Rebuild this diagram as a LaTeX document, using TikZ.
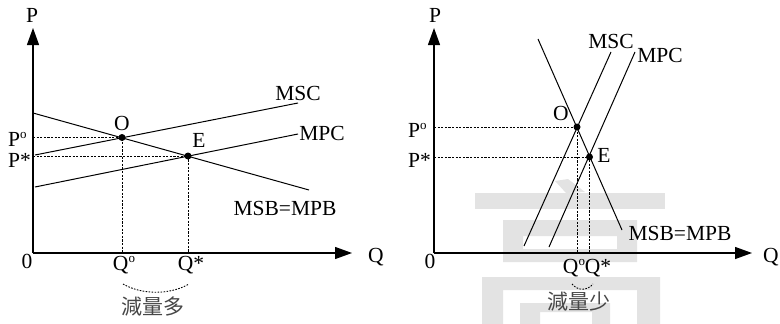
\documentclass[tikz,border=0pt]{standalone}
\usepackage{fontspec}
\setmainfont{Liberation Serif}
\newfontfamily\cjkfont{Noto Sans CJK TC}
\usetikzlibrary{arrows.meta}
\newcommand\supo{\raisebox{0.75ex}{\fontsize{13}{13}\selectfont o}}
\begin{document}
\begin{tikzpicture}[x=1pt,y=-1pt,
  lbl/.style={inner sep=0pt,font=\fontsize{21.5}{25}\selectfont},
  axis/.style={line width=1.3pt,-{Triangle[length=17pt,width=12pt]}},
  curve/.style={line width=1pt},
  guide/.style={line width=1pt,dash pattern=on 2.2pt off 1.4pt},
  arcd/.style={line width=0.9pt,dash pattern=on 1.6pt off 1.4pt},
  dot/.style={circle,fill=black,inner sep=0pt,minimum size=7pt},
  wm/.style={fill=black!11,draw=none},
  cjkl/.style={inner sep=0pt,font=\cjkfont\fontsize{21}{24}\selectfont,text=black!72}]
\useasboundingbox (0,0) rectangle (780,324);

% watermark
\fill[wm] (555,181) -- (568,179) -- (585,192) -- (566,193) -- cycle;
\fill[wm] (475,193) rectangle (665,209);
\fill[wm,even odd rule] (503,220) rectangle (637,262) (523,236) rectangle (617,249);
\fill[wm] (482,277) rectangle (660,290) (482,290) rectangle (503,324) (637,290) rectangle (660,324);
\fill[wm,even odd rule] (520,303) rectangle (610,324) (540,312) rectangle (592,324);

% ---------------- left panel
\coordinate (L0) at (33,253);
\coordinate (Ltop) at (33,28);
\coordinate (Lright) at (352,253);
\draw[axis] (L0) -- (Ltop);
\draw[axis] (L0) -- (Lright);

\coordinate (LmsbA) at (33,113);  \coordinate (LmsbB) at (309,190);
\coordinate (LmscA) at (35,155);  \coordinate (LmscB) at (298,103);
\coordinate (LmpcA) at (35,187);  \coordinate (LmpcB) at (298,134);
\draw[curve] (LmsbA) -- (LmsbB);
\draw[curve] (LmscA) -- (LmscB);
\draw[curve] (LmpcA) -- (LmpcB);

\coordinate (LO) at (122,137.5);
\coordinate (LE) at (188,156);
\coordinate (LPo) at (33,137.5);
\coordinate (LPs) at (33,156);
\coordinate (LQo) at (122,253);
\coordinate (LQs) at (188,253);
\draw[guide] (LPo) -- (LO) -- (LQo);
\draw[guide] (LPs) -- (LE) -- (LQs);
\node[dot] (LOd) at (LO) {};
\node[dot] (LEd) at (LE) {};

\node[lbl,anchor=base] (LP) at (32,22) {P};
\node[lbl,anchor=base] (LQ) at (376,262) {Q};
\node[lbl,anchor=base] (L0l) at (27,268) {0};
\node[lbl,anchor=base west] (LPol) at (8,146) {P\supo};
\node[lbl,anchor=base west] (LPsl) at (8,167) {P*};
\node[lbl,anchor=base] (LOl) at (122,130) {O};
\node[lbl,anchor=base] (LEl) at (199,147) {E};
\node[lbl,anchor=base] (LMSC) at (298,100) {MSC};
\node[lbl,anchor=base] (LMPC) at (322,140) {MPC};
\node[lbl,anchor=base] (LMSB) at (285,215) {MSB=MPB};
\node[lbl,anchor=base] (LQol) at (124,270) {Q\supo};
\node[lbl,anchor=base] (LQsl) at (191,270) {Q*};
\coordinate (LarcA) at (123,284);
\coordinate (LarcB) at (189,284);
\draw[arcd] (LarcA) .. controls (142,295) and (170,295) .. (LarcB);
\node[cjkl] (Lcjk) at (153,307) {減量多};

% ---------------- right panel
\coordinate (R0) at (434,253);
\coordinate (Rtop) at (434,28);
\coordinate (Rright) at (752,253);
\draw[axis] (R0) -- (Rtop);
\draw[axis] (R0) -- (Rright);

\coordinate (RmsbA) at (538,39);  \coordinate (RmsbB) at (622,230);
\coordinate (RmscA) at (524,246); \coordinate (RmscB) at (611,52);
\coordinate (RmpcA) at (549,247); \coordinate (RmpcB) at (635,52);
\draw[curve] (RmsbA) -- (RmsbB);
\draw[curve] (RmscA) -- (RmscB);
\draw[curve] (RmpcA) -- (RmpcB);

\coordinate (RO) at (577,127);
\coordinate (RE) at (589.5,157);
\coordinate (RPo) at (434,127);
\coordinate (RPs) at (434,157);
\coordinate (RQo) at (577,253);
\coordinate (RQs) at (589.5,253);
\draw[guide] (RPo) -- (RO) -- (RQo);
\draw[guide] (RPs) -- (RE) -- (RQs);
\node[dot] (ROd) at (RO) {};
\node[dot] (REd) at (RE) {};

\node[lbl,anchor=base] (RP) at (435,22) {P};
\node[lbl,anchor=base] (RQ) at (771,262) {Q};
\node[lbl,anchor=base] (R0l) at (430,268) {0};
\node[lbl,anchor=base west] (RPol) at (408,137) {P\supo};
\node[lbl,anchor=base west] (RPsl) at (408,167) {P*};
\node[lbl,anchor=base] (ROl) at (561,120) {O};
\node[lbl,anchor=base] (REl) at (604,162) {E};
\node[lbl,anchor=base] (RMSC) at (611,48) {MSC};
\node[lbl,anchor=base] (RMPC) at (660,62) {MPC};
\node[lbl,anchor=base] (RMSB) at (680,240) {MSB=MPB};
\node[lbl,anchor=base] (RQol) at (574,273) {Q\supo};
\node[lbl,anchor=base] (RQsl) at (598,273) {Q*};
\coordinate (RarcA) at (572,284);
\coordinate (RarcB) at (593,284);
\draw[arcd] (RarcA) .. controls (578,291) and (587,291) .. (RarcB);
\node[cjkl] (Rcjk) at (579,302) {減量少};
\end{tikzpicture}
\end{document}
